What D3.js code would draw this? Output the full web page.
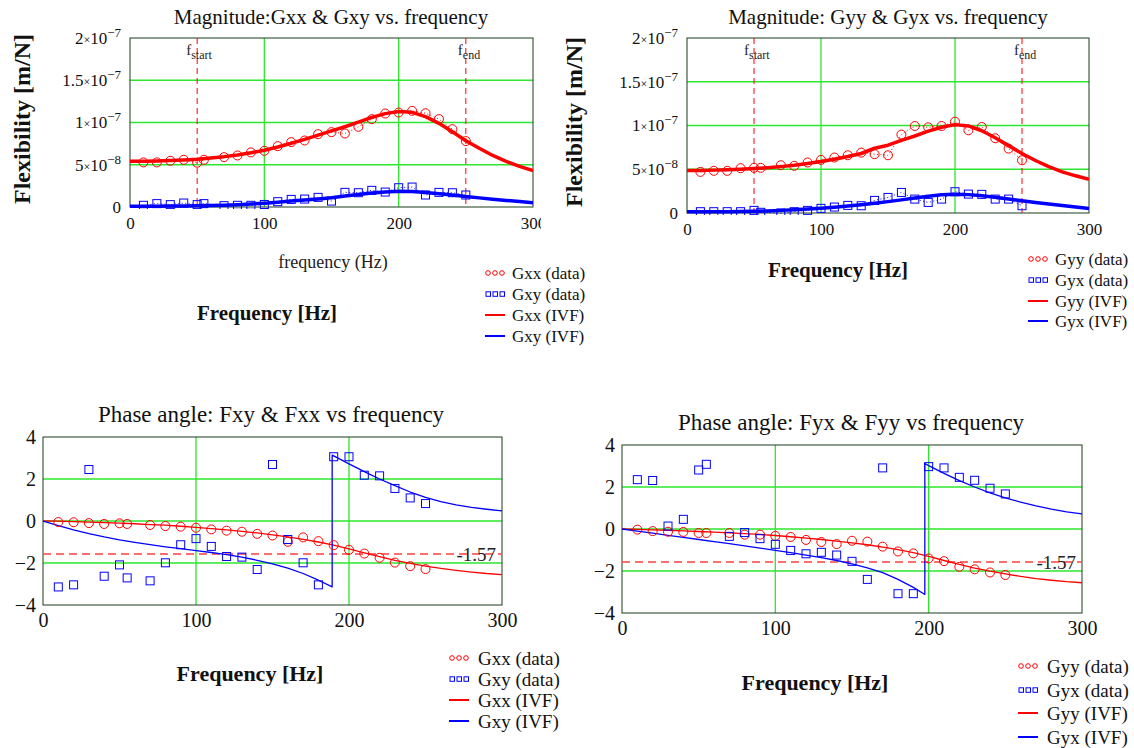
<!DOCTYPE html>
<html>
<head>
<meta charset="utf-8">
<script src="https://cdn.jsdelivr.net/npm/d3@7"></script>
<style>
  body { margin: 0; background: #fff; }
  svg, svg text { font-family: "Liberation Serif", "Times New Roman", serif; }
  svg { display: block; }
</style>
</head>
<body>
<svg width="1134" height="748"></svg>
<script>
// ---------------- DATA ----------------
// measured frequencies (Hz)
const freq = [10,20,30,40,50,55,70,80,90,100,110,120,130,140,150,160,170,180,190,200,210,220,230,240,250];
// frequencies of the fitted (IVF) curves
const fitFreq = [0,10,20,30,40,50,60,70,80,90,100,110,120,130,140,150,160,170,180,190,200,210,220,230,240,250,260,270,280,290,300];

// magnitudes, in units of 1e-8 m/N
const gxxMag = [5.28,5.28,5.47,5.59,5.24,5.59,5.9,6.1,6.46,6.65,7.2,7.68,7.87,8.62,8.86,8.7,9.49,10.4,11.06,11.18,11.38,11.1,10.4,9.21,7.8];
const gxyMag = [0.2,0.4,0.28,0.47,0.28,0.4,0.16,0.2,0.2,0.3,0.63,0.9,0.94,1.14,0.7,1.73,1.69,1.97,1.77,2.28,2.36,1.42,1.73,1.69,1.42];
const gxxMagFit = [5.4,5.42,5.45,5.5,5.57,5.66,5.8,5.96,6.16,6.42,6.72,7.1,7.55,8.0,8.5,9.0,9.5,10.05,10.6,11.05,11.3,11.2,10.7,9.9,8.9,7.85,6.95,6.1,5.4,4.8,4.3];
const gxyMagFit = [0.1,0.1,0.1,0.12,0.13,0.15,0.18,0.22,0.28,0.36,0.45,0.56,0.7,0.82,0.95,1.1,1.3,1.48,1.65,1.78,1.85,1.82,1.72,1.58,1.42,1.25,1.08,0.93,0.78,0.64,0.5];

const gyyMag = [4.7,4.82,4.82,5.12,5.16,5.16,5.46,5.39,5.77,6.07,6.34,6.6,6.9,6.72,6.6,8.96,9.94,9.79,9.94,10.44,9.45,9.83,8.54,7.36,6.03];
const gyxMag = [0.15,0.15,0.15,0.15,0.3,0.08,0.0,0.15,0.3,0.53,0.68,0.87,0.83,1.44,1.78,2.35,1.59,1.21,1.59,2.43,2.16,2.13,1.59,1.59,0.83];
const gyyMagFit = [4.85,4.87,4.9,4.95,5.0,5.08,5.18,5.3,5.45,5.65,5.88,6.15,6.45,6.8,7.4,7.75,8.3,8.8,9.35,9.8,10.1,9.95,9.4,8.6,7.7,6.8,6.0,5.3,4.7,4.25,3.85];
const gyxMagFit = [0.15,0.15,0.15,0.15,0.17,0.2,0.24,0.3,0.37,0.45,0.55,0.66,0.8,0.95,1.12,1.3,1.5,1.72,1.92,2.08,2.15,2.1,1.98,1.8,1.6,1.4,1.2,1.02,0.85,0.68,0.5];

// phase angles (rad)
const gxxPh = [-0.05,-0.06,-0.1,-0.14,-0.11,-0.14,-0.19,-0.24,-0.27,-0.32,-0.4,-0.46,-0.51,-0.61,-0.69,-0.99,-0.78,-0.96,-1.15,-1.37,-1.55,-1.75,-1.98,-2.15,-2.29];
const gxyPh = [-3.14,-3.04,2.45,-2.63,-2.09,-2.71,-2.85,-1.99,-1.13,-0.84,-1.21,-1.69,-1.72,-2.31,2.69,-0.88,-1.99,-3.04,3.06,3.06,2.18,2.15,1.55,1.1,0.83];
const gxxPhFit = [0,-0.01,-0.03,-0.05,-0.08,-0.1,-0.13,-0.17,-0.2,-0.25,-0.3,-0.36,-0.42,-0.49,-0.57,-0.66,-0.76,-0.87,-1.0,-1.15,-1.33,-1.52,-1.7,-1.87,-2.02,-2.15,-2.26,-2.35,-2.43,-2.5,-2.55];
const gxyPhFitFreq = [0,10,20,30,40,50,60,70,80,90,100,110,120,130,140,150,160,170,180,189,189,190,200,210,220,230,240,250,260,270,280,290,300];
const gxyPhFit = [0,-0.22,-0.42,-0.6,-0.76,-0.9,-1.02,-1.13,-1.23,-1.32,-1.41,-1.5,-1.6,-1.72,-1.87,-2.04,-2.24,-2.5,-2.82,-3.14,3.14,3.1,2.72,2.35,2.0,1.68,1.38,1.12,0.92,0.77,0.65,0.56,0.48];

const gyyPh = [-0.03,-0.1,-0.13,-0.14,-0.19,-0.19,-0.19,-0.27,-0.27,-0.33,-0.38,-0.52,-0.62,-0.72,-0.56,-0.6,-0.84,-1.07,-1.16,-1.4,-1.53,-1.8,-1.92,-2.07,-2.19];
const gyxPh = [2.35,2.31,0.14,0.46,2.81,3.08,-0.35,-0.17,-0.46,-0.73,-1.02,-1.18,-1.11,-1.24,-1.54,-2.4,2.91,-3.08,-3.08,2.97,2.91,2.46,2.32,1.94,1.67];
const gyyPhFit = [0,-0.02,-0.04,-0.06,-0.09,-0.12,-0.15,-0.18,-0.22,-0.26,-0.31,-0.37,-0.43,-0.5,-0.58,-0.66,-0.75,-0.86,-0.98,-1.12,-1.3,-1.5,-1.69,-1.86,-2.01,-2.14,-2.26,-2.36,-2.44,-2.51,-2.56];
const gyxPhFitFreq = [0,10,20,30,40,50,60,70,80,90,100,110,120,130,140,150,160,170,180,190,197.5,197.5,200,210,220,230,240,250,260,270,280,290,300];
const gyxPhFit = [0,-0.1,-0.2,-0.3,-0.4,-0.5,-0.6,-0.7,-0.8,-0.91,-1.02,-1.13,-1.24,-1.36,-1.5,-1.66,-1.85,-2.08,-2.4,-2.78,-3.12,3.12,3.02,2.65,2.3,2.0,1.72,1.48,1.28,1.1,0.95,0.82,0.72];

// ticks / markers
const xTicks = [0,100,200,300];
const xGrid = [100,200];
const magTicks = [0,5,10,15,20];
const magTickMant = ['0','5','1','1.5','2'];
const magTickExp = ['','−8','−7','−7','−7'];
const magGrid = [5,10,15];
const phTicks = [-4,-2,0,2,4];
const phTickText = ['−4','−2','0','2','4'];
const phGrid = [-2,0,2];
const fStart = 50, fEnd = 250;
const halfPi = -1.57;

const RED = '#ff0000', BLUE = '#0000ff', GREEN = '#2ee62e';

const svg = d3.select('svg');
const defs = svg.append('defs');
let clipN = 0;

//------------ PANEL -------------------------------------
function drawPanel(o) {
  const x = d3.scaleLinear().domain([0, 300]).range([o.left, o.right]);
  const y = d3.scaleLinear().domain(o.yDomain).range([o.bottom, o.top]);
  const g = svg.append('g');

  const id = 'clip' + (clipN++);
  defs.append('clipPath').attr('id', id)
    .append('rect')
      .attr('x', o.left).attr('y', o.top - 2)
      .attr('width', o.right - o.left).attr('height', o.bottom - o.top + 4);

  // grid
  g.selectAll('.gx').data(xGrid).enter().append('line')
    .attr('x1', d => x(d)).attr('x2', d => x(d))
    .attr('y1', o.top).attr('y2', o.bottom)
    .attr('stroke', GREEN).attr('stroke-width', 1.3);
  g.selectAll('.gy').data(o.grid).enter().append('line')
    .attr('x1', o.left).attr('x2', o.right)
    .attr('y1', d => y(d)).attr('y2', d => y(d))
    .attr('stroke', GREEN).attr('stroke-width', 1.3);

  // frame
  g.append('rect')
    .attr('x', o.left).attr('y', o.top)
    .attr('width', o.right - o.left).attr('height', o.bottom - o.top)
    .attr('fill', 'none').attr('stroke', '#1d3d1d').attr('stroke-width', 1);

  const plot = g.append('g').attr('clip-path', `url(#${id})`);

  // extra dashed markers (fstart / fend / -1.57)
  (o.vDash || []).forEach(v => {
    plot.append('line')
      .attr('x1', x(v.f)).attr('x2', x(v.f))
      .attr('y1', o.top).attr('y2', o.bottom)
      .attr('stroke', RED).attr('stroke-width', 1)
      .attr('stroke-dasharray', '6,4');
    const t = g.append('text')
      .attr('x', x(v.f) + v.dx).attr('y', o.top + 17)
      .attr('font-size', 15).attr('fill', '#222');
    t.append('tspan').text('f');
    t.append('tspan').attr('dy', 4).attr('font-size', 12).text(v.sub);
  });
  if (o.hDash !== undefined) {
    plot.append('line')
      .attr('x1', o.left).attr('x2', o.right)
      .attr('y1', y(o.hDash)).attr('y2', y(o.hDash))
      .attr('stroke', '#ff4040').attr('stroke-width', 1.5)
      .attr('stroke-dasharray', '8,5');
    g.append('text')
      .attr('x', o.right - 6).attr('y', y(o.hDash)).attr('dy', '0.35em')
      .attr('text-anchor', 'end').attr('font-size', 19).attr('fill', '#222')
      .text('-1.57');
  }

  // fitted curves
  o.fits.forEach(s => {
    const line = d3.line().x((d, i) => x(s.f[i])).y(d => y(d));
    plot.append('path')
      .datum(s.v)
      .attr('fill', 'none')
      .attr('stroke', s.color)
      .attr('stroke-width', o.fitWidth)
      .attr('stroke-linejoin', 'round')
      .attr('d', line);
  });

  // measured data
  o.data.forEach(s => {
    if (o.dataLine) {
      const line = d3.line().x((d, i) => x(freq[i])).y(d => y(d));
      plot.append('path')
        .datum(s.v)
        .attr('fill', 'none')
        .attr('stroke', s.color).attr('stroke-width', 1)
        .attr('stroke-dasharray', '1,2.5')
        .attr('d', line);
    }
    if (s.shape === 'circle') {
      plot.selectAll(null).data(s.v).enter().append('circle')
        .attr('cx', (d, i) => x(freq[i])).attr('cy', d => y(d))
        .attr('r', o.mark / 2)
        .attr('fill', 'none').attr('stroke', s.color).attr('stroke-width', 1);
    } else {
      plot.selectAll(null).data(s.v).enter().append('rect')
        .attr('x', (d, i) => x(freq[i]) - o.mark / 2 + 0.5)
        .attr('y', d => y(d) - o.mark / 2 + 0.5)
        .attr('width', o.mark - 1).attr('height', o.mark - 1)
        .attr('fill', 'none').attr('stroke', s.color).attr('stroke-width', 1);
    }
  });

  // axes
  const ax = g.append('g')
    .attr('transform', `translate(0,${o.bottom})`)
    .call(d3.axisBottom(x).tickValues(xTicks).tickSize(0).tickPadding(o.xPad));
  ax.select('.domain').remove();
  ax.attr('font-family', null);
  ax.selectAll('text').attr('font-size', o.tickFont).attr('fill', '#111');
  if (o.xClip) {
    const cid = 'clip' + (clipN++);
    defs.append('clipPath').attr('id', cid)
      .append('rect').attr('x', 0).attr('y', 0).attr('width', o.xClip).attr('height', 748);
    ax.attr('clip-path', `url(#${cid})`);
  }

  const ay = g.append('g')
    .attr('transform', `translate(${o.left},0)`)
    .call(d3.axisLeft(y).tickValues(o.yTicks).tickSize(0).tickPadding(o.yPad));
  ay.select('.domain').remove();
  ay.attr('font-family', null);
  ay.selectAll('text').attr('font-size', o.tickFont).attr('fill', '#111')
    .each(function(d, i) {
      const t = d3.select(this);
      t.text(null);
      if (o.magLabels) {
        if (magTickExp[i]) {
          t.append('tspan').text(magTickMant[i]);
          t.append('tspan').attr('font-size', 12).text('×');
          t.append('tspan').text('10');
          t.append('tspan').attr('dy', -7).attr('font-size', 13).text(magTickExp[i]);
        } else {
          t.text(magTickMant[i]);
        }
      } else {
        t.text(phTickText[i]);
      }
    });

  // title
  g.append('text')
    .attr('x', o.titleX).attr('y', o.titleY).attr('dy', '0.35em')
    .attr('text-anchor', 'middle').attr('font-size', o.titleFont).attr('fill', '#111')
    .text(o.title);

  // y label
  if (o.yLabel) {
    g.append('text')
      .attr('transform', `translate(${o.yLabel.x},${o.yLabel.y}) rotate(-90)`)
      .attr('dy', '0.35em')
      .attr('text-anchor', 'middle').attr('font-size', 24).attr('font-weight', 'bold')
      .attr('fill', '#111')
      .text('Flexibility [m/N]');
  }

  // x label(s)
  g.append('text')
    .attr('x', o.xLabel.x).attr('y', o.xLabel.y).attr('dy', '0.35em')
    .attr('text-anchor', 'middle').attr('font-size', o.xLabel.size).attr('font-weight', 'bold')
    .attr('fill', '#111')
    .text('Frequency [Hz]');
  if (o.xLabel2) {
    g.append('text')
      .attr('x', o.xLabel2.x).attr('y', o.xLabel2.y).attr('dy', '0.35em')
      .attr('text-anchor', 'middle').attr('font-size', 18).attr('fill', '#222')
      .text('frequency (Hz)');
  }

  // legend
  const lg = g.append('g');
  o.legend.rows.forEach((r, i) => {
    const ly = o.legend.ys[i];
    const lx = o.legend.x;
    if (r.kind === 'circle') {
      lg.selectAll(null).data([0, 1, 2]).enter().append('circle')
        .attr('cx', k => lx + 3 + k * 7).attr('cy', ly)
        .attr('r', 2.3).attr('fill', 'none').attr('stroke', r.color);
    } else if (r.kind === 'square') {
      lg.selectAll(null).data([0, 1, 2]).enter().append('rect')
        .attr('x', k => lx + 1 + k * 7).attr('y', ly - 2.2)
        .attr('width', 4.5).attr('height', 4.5).attr('fill', 'none').attr('stroke', r.color);
    } else {
      lg.append('line')
        .attr('x1', lx).attr('x2', lx + 20).attr('y1', ly).attr('y2', ly)
        .attr('stroke', r.color).attr('stroke-width', 2);
    }
    lg.append('text')
      .attr('x', lx + o.legend.gap).attr('y', ly).attr('dy', '0.35em')
      .attr('font-size', o.legend.size).attr('fill', '#111')
      .text(r.label);
  });
}

//------------ PANELS -------------------------------------
drawPanel({
  left: 130, right: 533, top: 38, bottom: 207,
  yDomain: [0, 20], yTicks: magTicks, grid: magGrid, magLabels: true,
  tickFont: 17, xPad: 10, yPad: 9, xClip: 541,
  title: 'Magnitude:Gxx & Gxy vs. frequency', titleX: 331, titleY: 17, titleFont: 21,
  yLabel: {x: 22, y: 119},
  xLabel: {x: 267, y: 313, size: 21},
  xLabel2: {x: 333, y: 262},
  vDash: [{f: fStart, dx: -11, sub: 'start'}, {f: fEnd, dx: -8, sub: 'end'}],
  fitWidth: 3.5, mark: 9, dataLine: true,
  fits: [{f: fitFreq, v: gxxMagFit, color: RED}, {f: fitFreq, v: gxyMagFit, color: BLUE}],
  data: [{v: gxxMag, color: RED, shape: 'circle'}, {v: gxyMag, color: BLUE, shape: 'square'}],
  legend: {x: 485, gap: 27, size: 17, ys: [273, 294, 315, 336], rows: [
    {kind: 'circle', color: RED, label: 'Gxx (data)'},
    {kind: 'square', color: BLUE, label: 'Gxy (data)'},
    {kind: 'line', color: RED, label: 'Gxx (IVF)'},
    {kind: 'line', color: BLUE, label: 'Gxy (IVF)'}]}
});

drawPanel({
  left: 687, right: 1089, top: 38, bottom: 213,
  yDomain: [0, 20], yTicks: magTicks, grid: magGrid, magLabels: true,
  tickFont: 17, xPad: 10, yPad: 9,
  title: 'Magnitude: Gyy & Gyx vs. frequency', titleX: 888, titleY: 17, titleFont: 21,
  yLabel: {x: 574, y: 122},
  xLabel: {x: 838, y: 270, size: 21},
  vDash: [{f: fStart, dx: -10, sub: 'start'}, {f: fEnd, dx: -8, sub: 'end'}],
  fitWidth: 3.5, mark: 9, dataLine: true,
  fits: [{f: fitFreq, v: gyyMagFit, color: RED}, {f: fitFreq, v: gyxMagFit, color: BLUE}],
  data: [{v: gyyMag, color: RED, shape: 'circle'}, {v: gyxMag, color: BLUE, shape: 'square'}],
  legend: {x: 1028, gap: 27, size: 17, ys: [259, 280, 301, 321], rows: [
    {kind: 'circle', color: RED, label: 'Gyy (data)'},
    {kind: 'square', color: BLUE, label: 'Gyx (data)'},
    {kind: 'line', color: RED, label: 'Gyy (IVF)'},
    {kind: 'line', color: BLUE, label: 'Gyx (IVF)'}]}
});

drawPanel({
  left: 43, right: 502, top: 437, bottom: 605,
  yDomain: [-4, 4], yTicks: phTicks, grid: phGrid,
  tickFont: 20, xPad: 8, yPad: 7,
  title: 'Phase angle: Fxy & Fxx vs frequency', titleX: 271, titleY: 414, titleFont: 23,
  xLabel: {x: 250, y: 673, size: 22},
  hDash: halfPi,
  fitWidth: 1.3, mark: 9, dataLine: false,
  fits: [{f: fitFreq, v: gxxPhFit, color: RED}, {f: gxyPhFitFreq, v: gxyPhFit, color: BLUE}],
  data: [{v: gxxPh, color: RED, shape: 'circle'}, {v: gxyPh, color: BLUE, shape: 'square'}],
  legend: {x: 449, gap: 29, size: 19, ys: [658, 679, 700, 721], rows: [
    {kind: 'circle', color: RED, label: 'Gxx (data)'},
    {kind: 'square', color: BLUE, label: 'Gxy (data)'},
    {kind: 'line', color: RED, label: 'Gxx (IVF)'},
    {kind: 'line', color: BLUE, label: 'Gxy (IVF)'}]}
});

drawPanel({
  left: 622, right: 1082, top: 445, bottom: 613,
  yDomain: [-4, 4], yTicks: phTicks, grid: phGrid,
  tickFont: 20, xPad: 8, yPad: 7,
  title: 'Phase angle: Fyx & Fyy vs frequency', titleX: 851, titleY: 422, titleFont: 23,
  xLabel: {x: 815, y: 682, size: 22},
  hDash: halfPi,
  fitWidth: 1.3, mark: 9, dataLine: false,
  fits: [{f: fitFreq, v: gyyPhFit, color: RED}, {f: gyxPhFitFreq, v: gyxPhFit, color: BLUE}],
  data: [{v: gyyPh, color: RED, shape: 'circle'}, {v: gyxPh, color: BLUE, shape: 'square'}],
  legend: {x: 1018, gap: 29, size: 19, ys: [666, 690, 713, 737], rows: [
    {kind: 'circle', color: RED, label: 'Gyy (data)'},
    {kind: 'square', color: BLUE, label: 'Gyx (data)'},
    {kind: 'line', color: RED, label: 'Gyy (IVF)'},
    {kind: 'line', color: BLUE, label: 'Gyx (IVF)'}]}
});
</script>
</body>
</html>
